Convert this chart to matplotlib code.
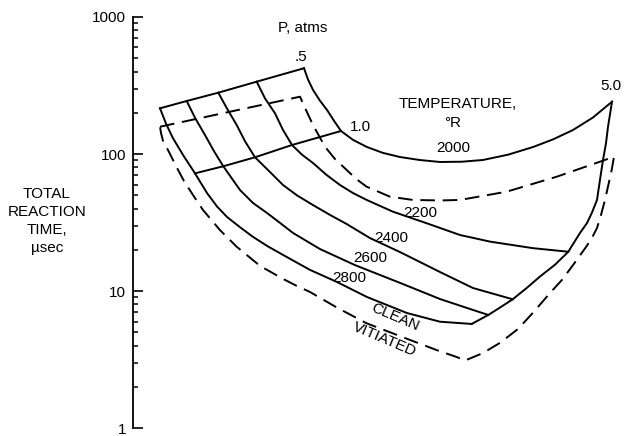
import matplotlib
matplotlib.use("Agg")
import matplotlib.pyplot as plt
from matplotlib.ticker import FixedLocator, LogLocator, NullFormatter

plt.rcParams['font.family'] = ['Liberation Sans', 'DejaVu Sans']

# Carpet plot: abscissa is an arbitrary carpet offset, ordinate is reaction time (usec)
# Clean air, constant temperature curves (deg R), from P = .5 to P = 5.0 atm
t2000_x = [304, 308, 313, 320, 327, 334, 341, 353, 367, 383, 400, 420, 440, 462, 483, 508, 533, 553, 573, 593, 612]
t2000_y = [423, 350, 294, 245, 210, 175, 147.4, 127, 112.6, 102, 95.2, 90.5, 87.6, 88, 90.6, 99, 112.6, 128, 149.9, 185, 241]

t2200_x = [256.7, 265, 275, 283, 292, 302, 313, 326, 340, 353, 366.7, 393, 426.7, 460, 490, 533, 568.3]
t2200_y = [337.5, 255, 198.5, 150, 116.5, 99, 86.1, 71, 59.5, 52, 46.3, 38.0, 31.3, 25.7, 23.0, 20.6, 19.4]

t2400_x = [218.3, 227, 236.7, 245, 255, 270, 283, 297, 313, 330, 346.7, 370, 400, 440, 473, 512.7]
t2400_y = [280.5, 215, 163.0, 124, 94.8, 74.0, 59.5, 50, 42.5, 36, 30.9, 24.4, 19.3, 13.8, 10.55, 8.73]

t2600_x = [186.7, 195, 205, 214, 223.3, 240, 253, 267, 280, 293, 320, 355, 400, 440, 470, 488.3]
t2600_y = [243.9, 184, 137.8, 105, 81.5, 54.7, 44, 37.2, 31.5, 26.6, 20.3, 15.5, 11.5, 8.77, 7.42, 6.71]

t2800_x = [160, 166, 173, 184, 195, 207, 217, 227, 240, 253, 268, 283, 310, 336.7, 367, 407, 440, 471.7]
t2800_y = [215.8, 167, 130.4, 96, 72.4, 52.0, 41.5, 34.8, 29.3, 24.9, 21.2, 18.4, 14.3, 11.7, 9.07, 6.93, 5.99, 5.77]

# Clean air, constant pressure lines
p05_x = [160, 186.7, 218.3, 256.7, 304]
p05_y = [215.8, 243.9, 280.5, 337.5, 423]
p10_x = [195, 223.3, 255, 292, 341]
p10_y = [72.4, 81.5, 94.8, 116.5, 147.4]
p50_x = [612, 610, 608, 606, 603, 600, 597, 592, 587, 580, 568.3, 555, 540, 527, 512.7, 500, 488.3, 471.7]
p50_y = [241, 195, 158.4, 120, 90.6, 65, 46.3, 37.5, 31.4, 26.6, 19.4, 15.6, 12.8, 10.6, 8.73, 7.6, 6.71, 5.77]

# Vitiated air, outline of the carpet (P = .5, T = 2000, P = 5.0, T = 2800)
vit_p05_x = [160, 300]
vit_p05_y = [158.4, 262.2]
vit_t2000_x = [306, 313, 325, 335, 346.7, 356, 366.7, 390, 413, 440, 460, 506.7, 556.7, 600, 614]
vit_t2000_y = [209.7, 163.0, 113.2, 92, 76.6, 66, 57.8, 48.9, 46.3, 45.9, 46.3, 53.2, 68.4, 88.0, 95.7]
vit_p50_x = [611.7, 608, 605, 601, 597, 592, 586, 573, 562, 550, 534, 518, 500, 483, 465]
vit_p50_y = [76.6, 58, 46.3, 36, 28.9, 24.5, 21.0, 15.5, 12.1, 9.70, 7.1, 5.30, 4.2, 3.54, 3.12]
vit_t2800_x = [456.7, 436.7, 410, 366.7, 336.7, 310, 296, 283, 260, 236.7, 220, 203, 193, 184, 176, 168, 163, 161, 160]
vit_t2800_y = [3.31, 3.72, 4.41, 5.83, 7.61, 9.87, 11.0, 12.3, 15.3, 21.1, 27.9, 39.1, 50.3, 63.6, 81.9, 107.1, 125, 142.5, 158.4]

W, H = 625, 436
fig = plt.figure(figsize=(W / 100, H / 100), dpi=100)
ax = fig.add_axes([133 / W, (H - 428.3) / H, (W - 133) / W, (428.3 - 17) / H])
ax.set_yscale('log')
ax.set_ylim(1, 1000)
ax.set_xlim(133, 625)

lw = 1.4
for xs, ys in [(t2000_x, t2000_y), (t2200_x, t2200_y), (t2400_x, t2400_y),
               (t2600_x, t2600_y), (t2800_x, t2800_y),
               (p05_x, p05_y), (p10_x, p10_y), (p50_x, p50_y)]:
    ax.plot(xs, ys, color='black', lw=lw, solid_joinstyle='round')

vx = vit_p05_x + vit_t2000_x + vit_p50_x + vit_t2800_x
vy = vit_p05_y + vit_t2000_y + vit_p50_y + vit_t2800_y
line, = ax.plot(vx, vy, color='black', lw=lw)
line.set_dashes((7.5, 4))

# axis styling
for s in ['top', 'right', 'bottom']:
    ax.spines[s].set_visible(False)
ax.spines['left'].set_linewidth(1.3)
ax.set_xticks([])
ax.yaxis.set_major_locator(FixedLocator([1, 10, 100, 1000]))
ax.set_yticklabels(['1', '10', '100', '1000'])
ax.yaxis.set_minor_locator(LogLocator(base=10, subs=range(2, 10)))
ax.yaxis.set_minor_formatter(NullFormatter())
ax.tick_params(axis='y', which='major', direction='in', length=7.5, width=1.2,
               pad=5, labelsize=11)
ax.tick_params(axis='y', which='minor', direction='in', length=3.8, width=1.1)

fs = 11
ax.text(303, 831, 'P, atms', ha='center', va='center', fontsize=fs)
ax.text(301, 511, '.5', ha='center', va='center', fontsize=fs)
ax.text(360, 157.6, '1.0', ha='center', va='center', fontsize=fs)
ax.text(611, 313.9, '5.0', ha='center', va='center', fontsize=fs)
ax.text(458, 233.9, 'TEMPERATURE,', ha='center', va='center', fontsize=fs)
ax.text(453, 167.2, '°R', ha='center', va='center', fontsize=fs)
ax.text(453, 109.9, '2000', ha='center', va='center', fontsize=fs)
ax.text(420, 37.5, '2200', ha='center', va='center', fontsize=fs)
ax.text(391, 24.4, '2400', ha='center', va='center', fontsize=fs)
ax.text(370, 17.5, '2600', ha='center', va='center', fontsize=fs)
ax.text(349, 12.5, '2800', ha='center', va='center', fontsize=fs)
ax.text(395, 6.43, 'CLEAN', ha='center', va='center', fontsize=fs, rotation=-23,
        rotation_mode='anchor')
ax.text(385, 4.41, 'VITIATED', ha='center', va='center', fontsize=fs, rotation=-23,
        rotation_mode='anchor')

fig.text(47 / W, 1 - 221 / H, 'TOTAL\nREACTION\nTIME,\nµsec', ha='center',
         va='center', fontsize=fs, linespacing=1.35)

fig.savefig('out.png', dpi=100, facecolor='white')
